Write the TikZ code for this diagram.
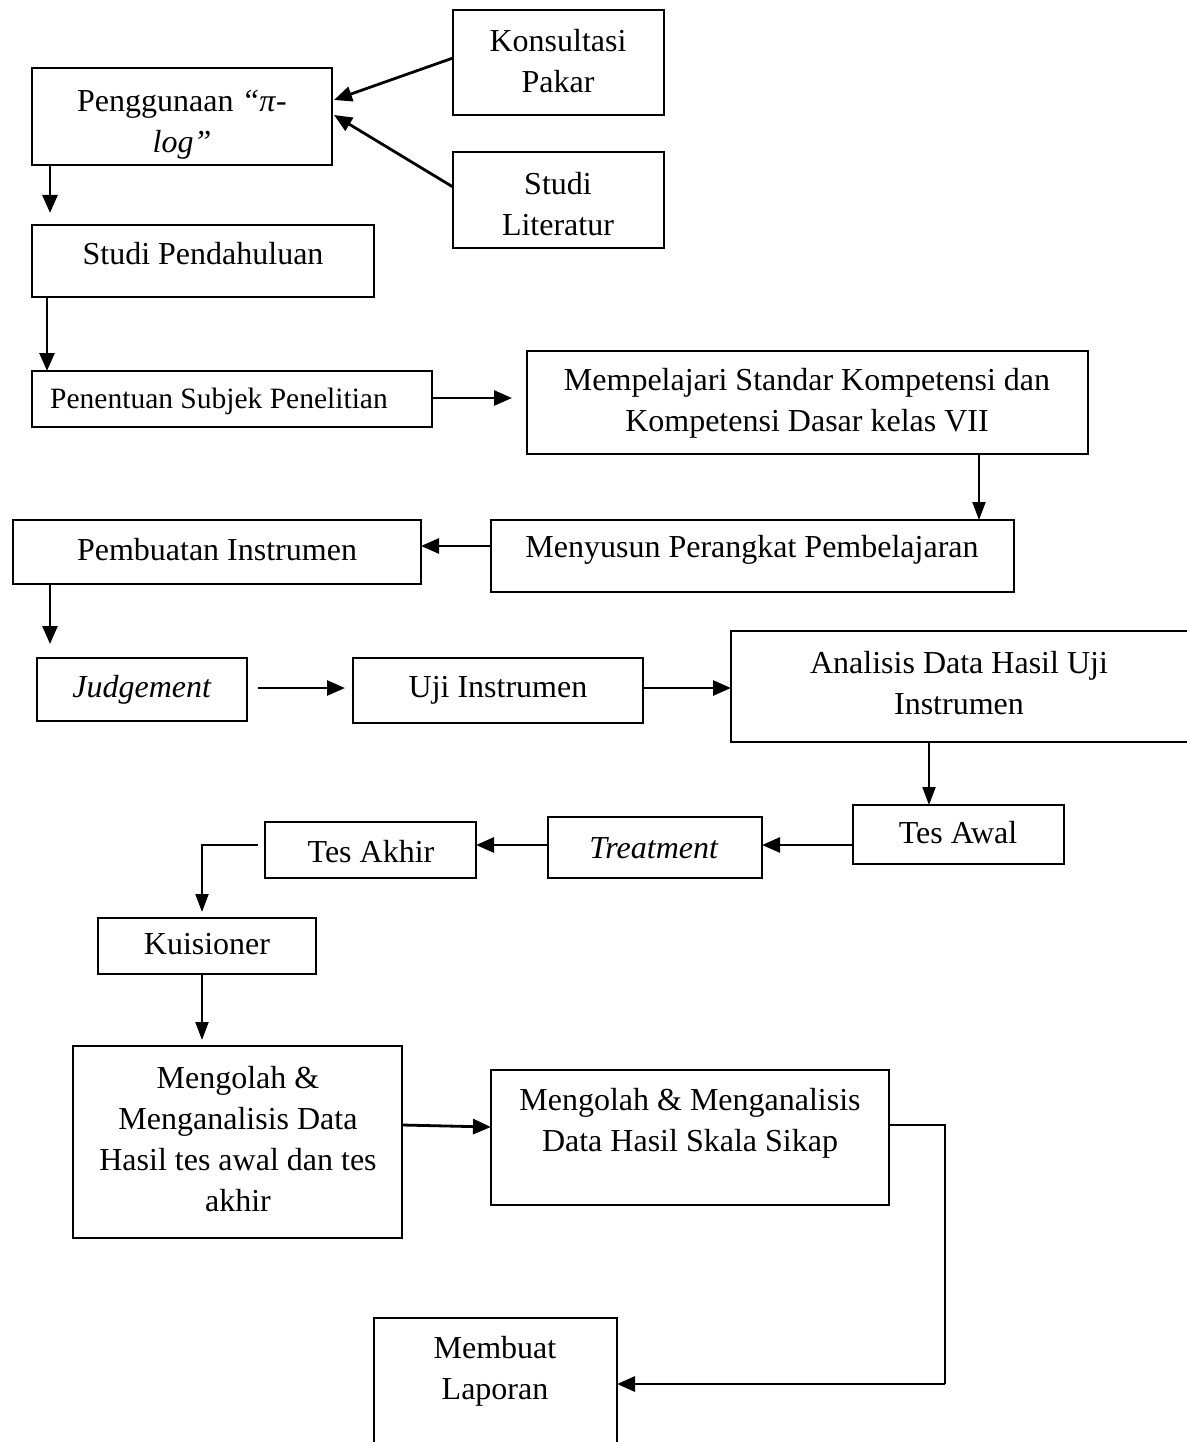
\documentclass[tikz,border=0pt]{standalone}
\usepackage{fontspec}
\setmainfont{Liberation Serif}
\usetikzlibrary{arrows.meta}
\tikzset{
  box/.style={draw, line width=2.5pt, inner sep=0pt, outer sep=0pt},
  txt/.style={inner sep=0pt, align=center, font=\fontsize{32}{41}\selectfont},
  smalltxt/.style={inner sep=0pt, align=center, font=\fontsize{29.5}{38}\selectfont},
  arr/.style={line width=2.8pt, -{Triangle[length=18pt, width=15pt]}},
  thinarr/.style={line width=2pt, -{Triangle[length=18pt, width=13pt]}},
  conn/.style={line width=2pt}
}
\newcommand{\bx}[5]{\node[box, minimum width={(#4-#2)*1pt}, minimum height={(#5-#3)*1pt}] (#1) at ({(#2+#4)/2},{(#3+#5)/2}) {};}
\begin{document}
\begin{tikzpicture}[x=1pt, y=-1pt]
\useasboundingbox (0,0) rectangle (1186,1442);
% boxes
\bx{peng}{32}{68}{332}{165}
\bx{kons}{453}{10}{664}{115}
\bx{lit}{453}{152}{664}{248}
\bx{pend}{32}{225}{374}{297}
\bx{subj}{32}{371}{432}{427}
\bx{memp}{527}{351}{1088}{454}
\bx{meny}{491}{520}{1014}{592}
\bx{pemb}{13}{520}{421}{584}
\bx{judg}{37}{658}{247}{721}
\bx{uji}{353}{658}{643}{723}
\bx{anal}{731}{631}{1200}{742}
\bx{awal}{853}{805}{1064}{864}
\bx{treat}{548}{817}{762}{878}
\bx{akhir}{265}{822}{476}{878}
\bx{kuis}{98}{918}{316}{974}
\bx{olah}{73}{1046}{402}{1238}
\bx{sikap}{491}{1070}{889}{1205}
\bx{lap}{374}{1318}{617}{1460}
% texts
\begin{scope}
\clip (32,68) rectangle (332,164);
\node[txt] (tpeng) at (182,125) {Penggunaan \textit{“π}-\\\textit{log”}};
\end{scope}
\node[txt] (tkons) at (558,61) {Konsultasi\\Pakar};
\node[txt] (tlit) at (558,204) {Studi\\Literatur};
\node[txt] (tpend) at (203,254) {Studi Pendahuluan};
\node[smalltxt] (tsubj) at (219,401) {Penentuan Subjek Penelitian};
\node[txt] (tmemp) at (807,403) {Mempelajari Standar Kompetensi dan\\Kompetensi Dasar kelas VII};
\node[txt] (tmeny) at (752,550) {Menyusun Perangkat Pembelajaran};
\node[txt] (tpemb) at (217,550) {Pembuatan Instrumen};
\node[txt] (tjudg) at (142,690) {\textit{Judgement}};
\node[txt] (tuji) at (498,690) {Uji Instrumen};
\node[txt] (tanal) at (959,683) {Analisis Data Hasil Uji\\Instrumen};
\node[txt] (tawal) at (958,833) {Tes Awal};
\node[txt] (ttreat) at (654,848) {\textit{Treatment}};
\node[txt] (takhir) at (371,852) {Tes Akhir};
\node[txt] (tkuis) at (207,944) {Kuisioner};
\node[txt] (tolah) at (238,1139) {Mengolah \&\\Menganalisis Data\\Hasil tes awal dan tes\\akhir};
\node[txt] (tsikap) at (690,1123) {Mengolah \& Menganalisis\\Data Hasil Skala Sikap};
\node[txt] (tlap) at (495,1371) {Membuat\\Laporan};
% connector helper coordinates
\coordinate (c1) at (50,213);
\coordinate (c2) at (512,398);
\coordinate (c3) at (50,644);
\coordinate (c4) at (345,688);
\coordinate (c5) at (258,845);
% connectors
\draw[arr] (kons.west |- 0,58) -- (334,100);
\draw[arr] (lit.west |- 0,187) -- (334,115);
\draw[arr] (peng.south -| 50,0) -- (c1);
\draw[arr] (pend.south -| 47,0) -- (subj.north -| 47,0);
\draw[arr] (subj.east |- 0,398) -- (c2);
\draw[thinarr] (memp.south -| 979,0) -- (meny.north -| 979,0);
\draw[arr] (meny.west |- 0,546) -- (pemb.east |- 0,546);
\draw[arr] (pemb.south -| 50,0) -- (c3);
\draw[arr] (judg.east |- 0,688) ++(11,0) -- (c4);
\draw[arr] (uji.east |- 0,688) -- (anal.west |- 0,688);
\draw[thinarr] (anal.south -| 929,0) -- (awal.north -| 929,0);
\draw[arr] (awal.west |- 0,845) -- (treat.east |- 0,845);
\draw[arr] (treat.west |- 0,845) -- (akhir.east |- 0,845);
\draw[thinarr] (c5) -- (202,845) -- (202,912);
\draw[thinarr] (kuis.south -| 202,0) -- (202,1040);
\draw[arr] (olah.east |- 0,1125) -- (sikap.west |- 0,1127);
\draw[conn] (sikap.east |- 0,1125) -- (945,1125) -- (945,1384);
\draw[arr] (945,1384) -- (lap.east |- 0,1384);
\end{tikzpicture}
\end{document}
